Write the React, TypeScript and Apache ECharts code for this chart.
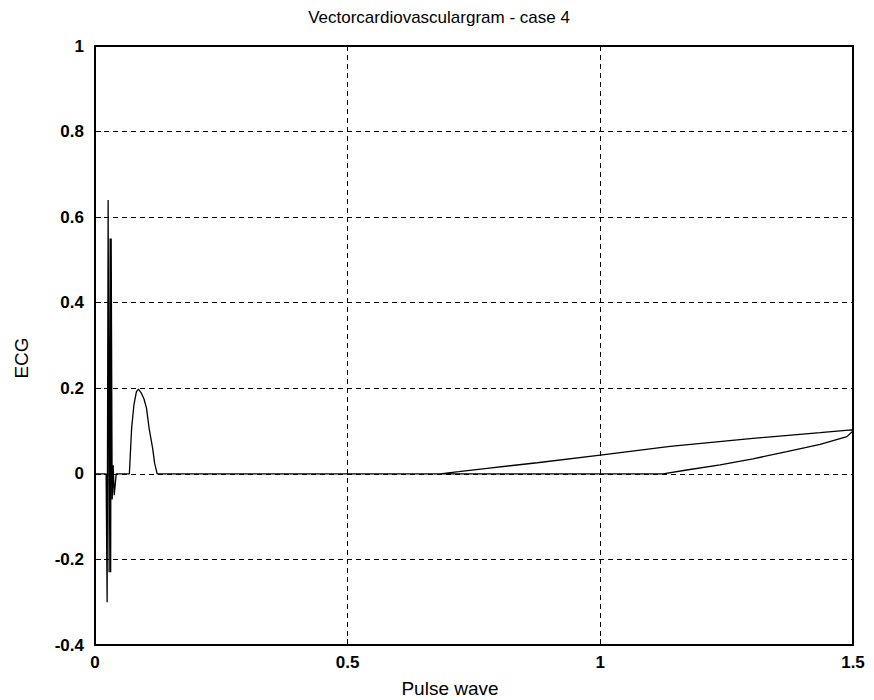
import React, { useEffect, useRef } from "react";
import * as echarts from "echarts";

const chartTitle = "Vectorcardiovasculargram - case 4";
const xName = "Pulse wave";
const yName = "ECG";
const xTicks = [0, 0.5, 1, 1.5];
const yTicks = [-0.4, -0.2, 0, 0.2, 0.4, 0.6, 0.8, 1];

// QRS complex (pulse wave, ECG)
const qrsPulse = [0, 0.022, 0.024, 0.026, 0.028, 0.03, 0.031, 0.032, 0.034, 0.036, 0.038, 0.042];
const qrsEcg = [0, 0, -0.3, 0.64, -0.23, 0.55, -0.23, 0.55, -0.06, 0.02, -0.05, 0];

// T wave bump
const wavePulse = [0.068, 0.0705, 0.0725, 0.077, 0.082, 0.086, 0.091, 0.097, 0.102, 0.107, 0.114, 0.118, 0.123];
const waveEcg = [0, 0.06, 0.107, 0.161, 0.192, 0.198, 0.19, 0.175, 0.153, 0.107, 0.06, 0.025, 0];

// loop: baseline, lower branch out to 1.5, upper branch back
const loopPulse = [1.124, 1.171, 1.237, 1.302, 1.369, 1.435, 1.488, 1.5, 1.497, 1.435, 1.302, 1.138, 1.0, 0.875, 0.776, 0.72, 0.683];
const loopEcg = [0, 0.009, 0.021, 0.035, 0.052, 0.069, 0.087, 0.1, 0.103, 0.0965, 0.083, 0.064, 0.044, 0.026, 0.013, 0.005, 0];

export default function App() {
  const ref = useRef<HTMLDivElement>(null);
  useEffect(() => {
    if (!ref.current) return;
    const chart = echarts.init(ref.current, null, { renderer: "svg" });
    const pts: number[][] = [];
    qrsPulse.forEach((x, i) => pts.push([x, qrsEcg[i]]));
    wavePulse.forEach((x, i) => pts.push([x, waveEcg[i]]));
    loopPulse.forEach((x, i) => pts.push([x, loopEcg[i]]));
    const fmt = (v: number) => String(Math.round(v * 10) / 10);
    const labelStyle = {
      color: "#000",
      fontFamily: "Liberation Sans, Arial, sans-serif",
      fontWeight: "bold" as const,
      fontSize: 17,
    };
    const font = "Liberation Sans, Arial, sans-serif";
    chart.setOption({
      animation: false,
      backgroundColor: "#fff",
      grid: {
        left: 95,
        right: 21,
        top: 46,
        bottom: 55,
        show: true,
        borderColor: "#000",
        borderWidth: 2,
        containLabel: false,
      },
      graphic: [
        {
          type: "text",
          x: 439,
          y: 17,
          style: {
            text: chartTitle,
            fill: "#000",
            font: "17px " + font,
            align: "center",
            verticalAlign: "middle",
          },
        },
        {
          type: "text",
          x: 450,
          y: 688,
          style: {
            text: xName,
            fill: "#000",
            font: "19px " + font,
            align: "center",
            verticalAlign: "middle",
          },
        },
        {
          type: "text",
          x: 21,
          y: 358,
          rotation: Math.PI / 2,
          style: {
            text: yName,
            fill: "#000",
            font: "19px " + font,
            align: "center",
            verticalAlign: "middle",
          },
        },
      ],
      xAxis: {
        type: "value",
        min: xTicks[0],
        max: xTicks[xTicks.length - 1],
        interval: 0.5,
        axisLine: { show: true, onZero: false, lineStyle: { color: "#000", width: 2 } },
        axisTick: { show: true, inside: true, length: 6, lineStyle: { color: "#000" } },
        axisLabel: { ...labelStyle, margin: 9, formatter: fmt },
        splitLine: { show: true, lineStyle: { color: "#000", type: [5, 4], width: 1 } },
      },
      yAxis: {
        type: "value",
        min: yTicks[0],
        max: yTicks[yTicks.length - 1],
        interval: 0.2,
        axisLine: { show: true, onZero: false, lineStyle: { color: "#000", width: 2 } },
        axisTick: { show: true, inside: true, length: 6, lineStyle: { color: "#000" } },
        axisLabel: { ...labelStyle, margin: 11, formatter: fmt },
        splitLine: { show: true, lineStyle: { color: "#000", type: [5, 4], width: 1 } },
      },
      series: [
        {
          type: "line",
          data: pts,
          showSymbol: false,
          symbol: "none",
          clip: true,
          lineStyle: { color: "#000", width: 1.3 },
        },
      ],
    });
    return () => chart.dispose();
  }, []);
  return (
    <div
      ref={ref}
      style={{ position: "absolute", left: 0, top: 0, width: 874, height: 700 }}
    />
  );
}
